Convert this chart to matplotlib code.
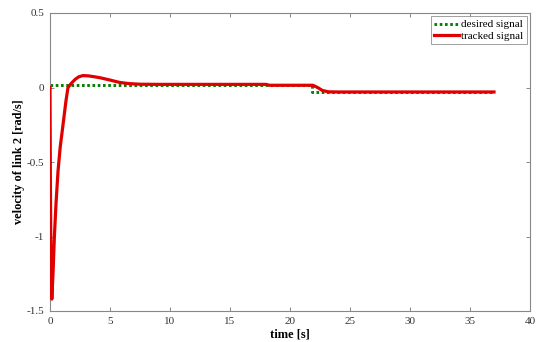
import matplotlib
matplotlib.use("Agg")
import matplotlib.pyplot as plt

# desired signal (piecewise constant reference)
t_desired = [0.0, 21.8, 21.8, 37.0]
v_desired = [0.02, 0.02, -0.03, -0.03]

# tracked signal
t_tracked = [0.0, 0.03, 0.08, 0.15, 0.25, 0.36, 0.5, 0.67, 0.85, 1.1, 1.33, 1.5,
             1.8, 2.1, 2.4, 2.75, 3.2, 3.7, 4.2, 5.0, 5.8, 6.6, 7.5, 9.0,
             18.0, 18.3, 21.9, 22.3, 22.7, 23.2, 24.0, 37.0]
v_tracked = [0.0, -0.6, -1.2, -1.42, -1.25, -1.01, -0.78, -0.56, -0.40, -0.24, -0.09, 0.0,
             0.03, 0.055, 0.072, 0.08, 0.078, 0.072, 0.065, 0.05, 0.034, 0.026, 0.022, 0.021,
             0.021, 0.015, 0.015, 0.0, -0.02, -0.029, -0.03, -0.03]

x_ticks = [0, 5, 10, 15, 20, 25, 30, 35, 40]
y_ticks = [-1.5, -1, -0.5, 0, 0.5]
y_ticklabels = ["-1.5", "-1", "-0.5", "0", "0.5"]

plt.rcParams['font.family'] = ['Liberation Serif', 'DejaVu Serif']

fig = plt.figure(figsize=(5.37, 3.42), dpi=100)
ax = fig.add_axes([50/537, 31/342, 480/537, 298/342])

ax.plot(t_desired, v_desired, color=(0, 0.5, 0), lw=2.1, linestyle=(0, (0.9, 0.9)),
        label='desired signal', zorder=2)
ax.plot(t_tracked, v_tracked, color='#e00000', lw=2.3, label='tracked signal',
        zorder=3, solid_joinstyle='round')

ax.set_xlim(0, 40)
ax.set_ylim(-1.5, 0.5)
ax.set_xticks(x_ticks)
ax.set_xticklabels([str(v) for v in x_ticks])
ax.set_yticks(y_ticks)
ax.set_yticklabels(y_ticklabels)

for s in ax.spines.values():
    s.set_color('#888888')
    s.set_linewidth(0.8)
ax.tick_params(direction='in', top=True, right=True, length=3, width=0.7,
               colors='#888888', labelcolor='#333333', labelsize=8, pad=4)

ax.set_xlabel('time [s]', fontsize=9, fontweight='bold')
ax.set_ylabel('velocity of link 2 [rad/s]', fontsize=8.8, fontweight='bold')
ax.xaxis.set_label_coords(0.5, -0.08)
ax.yaxis.set_label_coords(-0.064, 0.5)
ax.xaxis.label.set_va('center')
ax.yaxis.label.set_va('center')

leg = ax.legend(loc='upper right', fontsize=8, frameon=True, fancybox=False,
                borderpad=0.3, handlelength=2.2, handletextpad=0.2,
                labelspacing=0.15, borderaxespad=0.3)
leg.get_frame().set_edgecolor('#888888')
leg.get_frame().set_linewidth(0.7)

fig.savefig('out.png', dpi=100)
